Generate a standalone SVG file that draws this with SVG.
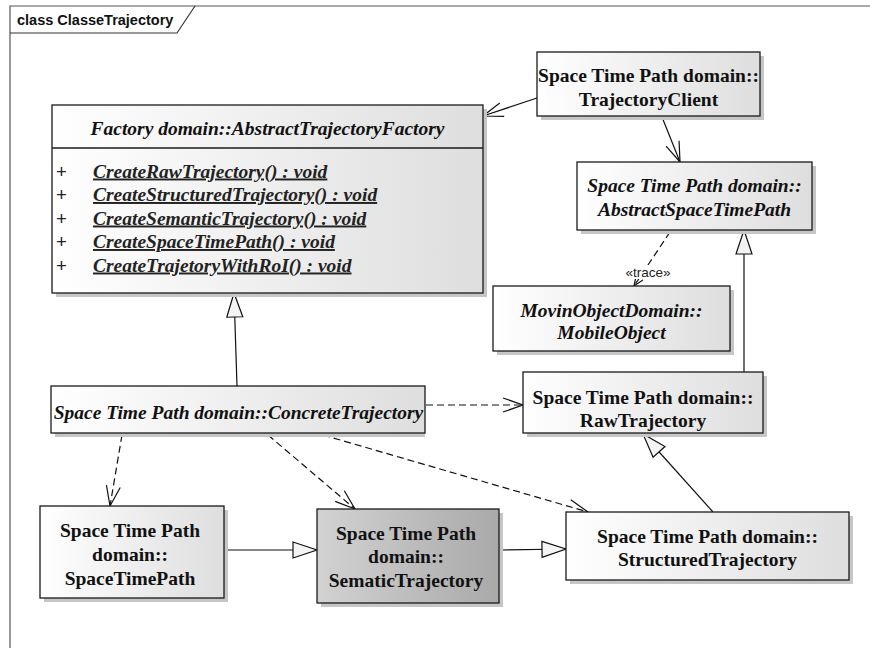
<svg xmlns="http://www.w3.org/2000/svg" width="870" height="648" viewBox="0 0 870 648">
<style>
.box{stroke:#1a1a1a;stroke-width:1.3;fill:url(#g1)}
.boxd{stroke:#1a1a1a;stroke-width:1.3;fill:url(#g2)}
.sh{fill:#c6c6c6}
.t{font-family:"Liberation Serif","Times New Roman",serif;font-weight:bold;font-size:19.5px;fill:#111;text-anchor:middle}
.i{font-style:italic}
.m{font-family:"Liberation Serif","Times New Roman",serif;font-weight:bold;font-style:italic;font-size:19.5px;fill:#222;text-decoration:underline}
.p{font-family:"Liberation Serif","Times New Roman",serif;font-weight:bold;font-size:19px;fill:#222}
.c{fill:none;stroke:#111;stroke-width:1.2}
.d{stroke-dasharray:7,4}
.lbl{font-family:"Liberation Sans",Arial,sans-serif;font-size:13.5px;fill:#222;text-anchor:middle}
</style>
<defs>
<linearGradient id="g1" x1="0" y1="0" x2="1" y2="0"><stop offset="0" stop-color="#ffffff"/><stop offset="1" stop-color="#dedede"/></linearGradient>
<linearGradient id="g2" x1="0" y1="0" x2="1" y2="0"><stop offset="0" stop-color="#d2d2d2"/><stop offset="1" stop-color="#a9a9a9"/></linearGradient>
<marker id="ao" markerUnits="userSpaceOnUse" viewBox="0 0 20 14" markerWidth="20" markerHeight="14" refX="20" refY="7" orient="auto" overflow="visible"><path d="M0,0 L20,7 L0,14" fill="none" stroke="#111" stroke-width="1.2" stroke-dasharray="none"/></marker>
<marker id="as" markerUnits="userSpaceOnUse" viewBox="0 0 10 8" markerWidth="10" markerHeight="8" refX="10" refY="4" orient="auto" overflow="visible"><path d="M0,0 L10,4 L0,8" fill="none" stroke="#111" stroke-width="1.2" stroke-dasharray="none"/></marker>
<marker id="tr" markerUnits="userSpaceOnUse" viewBox="0 0 24 16" markerWidth="24" markerHeight="16" refX="24" refY="8" orient="auto" overflow="visible"><path d="M0,0 L24,8 L0,16 Z" fill="#f4f4f4" stroke="#111" stroke-width="1.2" stroke-dasharray="none"/></marker>
</defs>
<rect width="870" height="648" fill="#ffffff"/>
<g id="frame">
<path d="M10,648 L10,6 L870,6" fill="none" stroke="#555" stroke-width="1.2"/>
<path d="M10,33 L177,33 L195,6" fill="none" stroke="#333" stroke-width="1.2"/>
<text x="17" y="25" font-family="'Liberation Sans',Arial,sans-serif" font-weight="bold" font-size="14.5" fill="#111">class ClasseTrajectory</text>
</g>
<g id="connectors">
<path class="c" d="M537,98 L483,116" marker-end="url(#ao)"/>
<path class="c" d="M662,117 L680,162" marker-end="url(#ao)"/>
<path class="c d" d="M670,232 L634,286" marker-end="url(#as)"/>
<rect x="624" y="265" width="49" height="14" fill="#ffffff"/>
<text class="lbl" x="648" y="277">«trace»</text>
<path class="c" d="M744,372 L744,230" marker-end="url(#tr)"/>
<path class="c" d="M237,386 L234,293" marker-end="url(#tr)"/>
<path class="c d" d="M426,405 L523,405" marker-end="url(#ao)"/>
<path class="c d" d="M122,435 L110,506" marker-end="url(#ao)"/>
<path class="c d" d="M268,435 L355,509" marker-end="url(#ao)"/>
<path class="c d" d="M323,435 L588,512" marker-end="url(#ao)"/>
<path class="c" d="M224,550 L317,550" marker-end="url(#tr)"/>
<path class="c" d="M499,550 L566,549" marker-end="url(#tr)"/>
<path class="c" d="M713,512 L643,434" marker-end="url(#tr)"/>
</g>
<g id="AbstractTrajectoryFactory">
<rect class="sh" x="56" y="109" width="431" height="188"/>
<rect class="box" x="52" y="105" width="431" height="188"/>
<line x1="52" y1="148" x2="483" y2="148" stroke="#1a1a1a" stroke-width="1.3"/>
<text class="t i" x="267.5" y="135">Factory domain::AbstractTrajectoryFactory</text>
<text class="p" x="56" y="177.5">+</text>
<text class="p" x="56" y="201">+</text>
<text class="p" x="56" y="224.5">+</text>
<text class="p" x="56" y="248">+</text>
<text class="p" x="56" y="271.5">+</text>
<text class="m" x="93" y="177.5">CreateRawTrajectory() : void</text>
<text class="m" x="93" y="201">CreateStructuredTrajectory() : void</text>
<text class="m" x="93" y="224.5">CreateSemanticTrajectory() : void</text>
<text class="m" x="93" y="248">CreateSpaceTimePath() : void</text>
<text class="m" x="93" y="271.5">CreateTrajetoryWithRoI() : void</text>
</g>
<g id="TrajectoryClient">
<rect class="sh" x="541" y="56" width="223" height="64"/>
<rect class="box" x="537" y="52" width="223" height="64"/>
<text class="t" x="648.5" y="81.5">Space Time Path domain::</text>
<text class="t" x="648.5" y="105.5">TrajectoryClient</text>
</g>
<g id="AbstractSpaceTimePath">
<rect class="sh" x="581" y="166" width="235" height="68"/>
<rect class="box" x="577" y="162" width="235" height="68"/>
<text class="t i" x="694.5" y="191.5">Space Time Path domain::</text>
<text class="t i" x="694.5" y="215.5">AbstractSpaceTimePath</text>
</g>
<g id="MobileObject">
<rect class="sh" x="497" y="290" width="237" height="65"/>
<rect class="box" x="493" y="286" width="237" height="65"/>
<text class="t i" x="611.5" y="316.5">MovinObjectDomain::</text>
<text class="t i" x="611.5" y="339">MobileObject</text>
</g>
<g id="RawTrajectory">
<rect class="sh" x="527" y="376" width="240" height="61"/>
<rect class="box" x="523" y="372" width="240" height="61"/>
<text class="t" x="643" y="403.5">Space Time Path domain::</text>
<text class="t" x="643" y="426.5">RawTrajectory</text>
</g>
<g id="ConcreteTrajectory">
<rect class="sh" x="55" y="390" width="370" height="47"/>
<rect class="box" x="51" y="386" width="374" height="47"/>
<text class="t i" x="238.5" y="419">Space Time Path domain::ConcreteTrajectory</text>
</g>
<g id="SpaceTimePath">
<rect class="sh" x="44" y="510" width="184" height="92"/>
<rect class="box" x="40" y="506" width="184" height="92"/>
<text class="t" x="130" y="537">Space Time Path</text>
<text class="t" x="130" y="561">domain::</text>
<text class="t" x="130" y="585">SpaceTimePath</text>
</g>
<g id="SematicTrajectory">
<rect class="sh" x="321" y="513" width="182" height="94"/>
<rect class="boxd" x="317" y="509" width="182" height="94"/>
<text class="t" x="406" y="539.5">Space Time Path</text>
<text class="t" x="406" y="562.5">domain::</text>
<text class="t" x="406" y="586.5">SematicTrajectory</text>
</g>
<g id="StructuredTrajectory">
<rect class="sh" x="570" y="516" width="283" height="68"/>
<rect class="box" x="566" y="512" width="283" height="68"/>
<text class="t" x="707.5" y="542.5">Space Time Path domain::</text>
<text class="t" x="707.5" y="565.5">StructuredTrajectory</text>
</g>
</svg>
